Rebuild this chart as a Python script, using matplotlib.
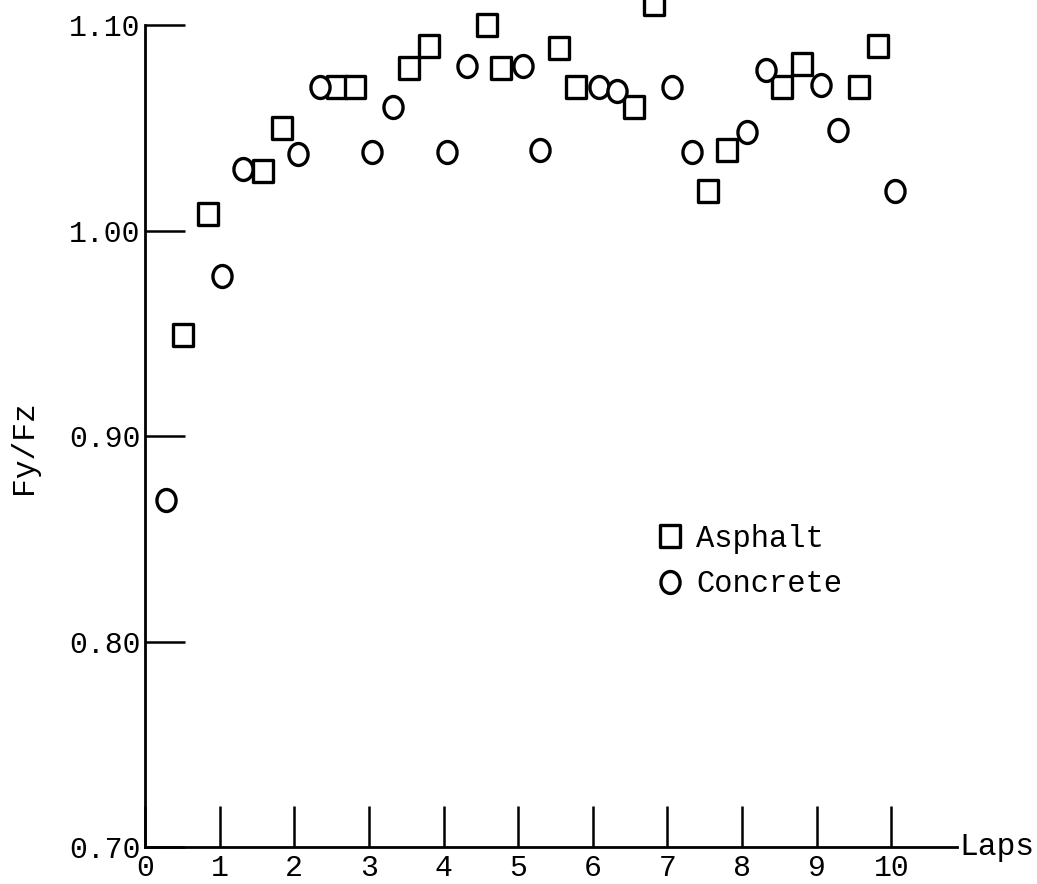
import matplotlib
matplotlib.use("Agg")
import matplotlib.pyplot as plt
from matplotlib.path import Path
from matplotlib.transforms import Affine2D

plt.rcParams['font.family'] = ['Liberation Mono', 'DejaVu Sans Mono']

# Lateral force coefficient per lap
asphalt_laps = [0.51, 0.84, 1.585, 1.832, 2.577, 2.814, 3.541, 3.805, 4.58, 4.766,
                5.547, 5.775, 6.552, 6.818, 7.540, 7.794, 8.531, 8.799, 9.563, 9.817]
asphalt_fyfz = [0.949, 1.008, 1.029, 1.050, 1.070, 1.070, 1.079, 1.090, 1.100, 1.079,
                1.089, 1.070, 1.060, 1.110, 1.019, 1.039, 1.070, 1.081, 1.070, 1.090]

concrete_laps = [0.281, 1.036, 1.317, 2.054, 2.345, 3.046, 3.319, 4.043, 4.311, 5.069,
                 5.293, 6.087, 6.320, 7.066, 7.325, 8.062, 8.317, 9.054, 9.290, 10.049]
concrete_fyfz = [0.869, 0.978, 1.030, 1.037, 1.070, 1.038, 1.060, 1.038, 1.080, 1.080,
                 1.039, 1.070, 1.068, 1.070, 1.038, 1.048, 1.078, 1.071, 1.049, 1.019]

x_ticks = list(range(0, 11))
y_ticks = [0.70, 0.80, 0.90, 1.00, 1.10]
y_tick_labels = ["0.70", "0.80", "0.90", "1.00", "1.10"]

W, H = 1037, 884
fig = plt.figure(figsize=(W / 100, H / 100), dpi=100)
ax = fig.add_axes([145 / W, 1 - 847 / H, 812 / W, 822 / H])

# slightly tall hand-drawn style markers
box = Path([(-0.44, -0.5), (0.44, -0.5), (0.44, 0.5), (-0.44, 0.5), (-0.44, -0.5)],
           [Path.MOVETO, Path.LINETO, Path.LINETO, Path.LINETO, Path.CLOSEPOLY])
ring = Path.unit_circle().transformed(Affine2D().scale(0.87, 1.0))

mstyle = dict(linestyle='none', markersize=15.8, markerfacecolor='white',
              markeredgecolor='black', markeredgewidth=2.4, clip_on=False, zorder=5)
ax.plot(asphalt_laps, asphalt_fyfz, marker=box, label='Asphalt', **mstyle)
ax.plot(concrete_laps, concrete_fyfz, marker=ring, label='Concrete', **mstyle)

ax.set_xlim(0, 10.88)
ax.set_ylim(0.70, 1.10)
for s in ['top', 'right']:
    ax.spines[s].set_visible(False)
for s in ['left', 'bottom']:
    ax.spines[s].set_linewidth(2.0)

ax.set_xticks(x_ticks)
ax.set_xticklabels([str(v) for v in x_ticks])
ax.set_yticks(y_ticks)
ax.set_yticklabels(y_tick_labels)
ax.tick_params(axis='x', direction='in', length=29.5, width=1.8, pad=5, labelsize=21.5)
ax.tick_params(axis='y', direction='in', length=29, width=1.8, pad=3, labelsize=21.5)

fig.text(959 / W, 1 - 855 / H, "Laps", fontsize=22.5, ha='left', va='baseline')
fig.text(24 / W, 1 - 447 / H, "Fy/Fz", fontsize=22.5, rotation=90, ha='center', va='center')

ax.legend(loc='upper left', bbox_to_anchor=(655 / W, 1 - 524 / H),
          bbox_transform=fig.transFigure, frameon=False, fontsize=22,
          handlelength=1.0, handletextpad=0.34, labelspacing=0.5,
          borderpad=0, borderaxespad=0)

fig.savefig("out.png", dpi=100)
